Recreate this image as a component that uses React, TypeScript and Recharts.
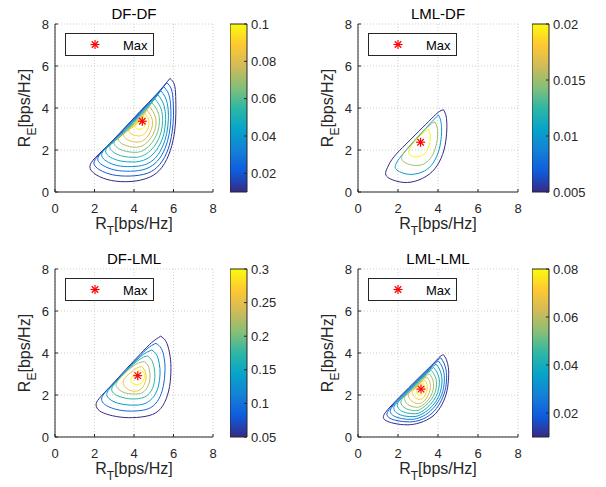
import React from 'react';
import {
  ComposedChart,
  Line,
  Scatter,
  XAxis,
  YAxis,
  CartesianGrid,
  Legend,
  Label,
  ReferenceArea,
} from 'recharts';

// ---------------- data ----------------
const AXIS_TICKS = [0, 2, 4, 6, 8];
const AXIS_DOMAIN = [0, 8];

const PARULA = ['#352a87', '#0f5cdd', '#1481d6', '#06a4ca', '#2eb7a4', '#87bf77', '#d1bb59', '#fec832', '#f9fb0e'];

// DF-DF
const DFDF_LEVELS = [0.01, 0.019, 0.028, 0.037, 0.046, 0.055, 0.064, 0.073, 0.082, 0.091, 0.1];
const DFDF_RANGE = [0.01, 0.1];
const DFDF_CTICKS = [0.02, 0.04, 0.06, 0.08, 0.1];
const DFDF_MAX = [{ x: 4.42, y: 3.37 }];
const DFDF_RINGS = [
  [[5.82,5.41],[6.04,5.13],[6.11,4.55],[6.12,3.75],[6.06,2.90],[5.84,1.98],[5.42,1.18],[4.78,0.70],[3.85,0.50],[2.85,0.55],[2.12,0.80],[1.78,1.12],[1.93,1.52],[2.60,2.15],[3.40,2.93],[4.30,3.83],[5.10,4.62],[5.55,5.10],[5.82,5.41]],
  [[5.66,5.21],[5.89,4.90],[5.98,4.35],[6.00,3.65],[5.93,2.85],[5.72,2.02],[5.32,1.33],[4.70,0.90],[3.80,0.76],[2.92,0.82],[2.27,1.05],[1.98,1.32],[2.12,1.65],[2.70,2.21],[3.45,2.95],[4.30,3.80],[5.05,4.54],[5.45,4.96],[5.66,5.21]],
  [[5.50,5.02],[5.74,4.70],[5.85,4.20],[5.87,3.55],[5.79,2.80],[5.57,2.07],[5.19,1.48],[4.60,1.10],[3.82,0.99],[3.02,1.05],[2.42,1.27],[2.17,1.52],[2.30,1.82],[2.80,2.27],[3.50,2.97],[4.30,3.76],[4.95,4.40],[5.30,4.77],[5.50,5.02]],
  [[5.35,4.83],[5.58,4.52],[5.71,4.08],[5.74,3.50],[5.66,2.80],[5.44,2.15],[5.08,1.62],[4.55,1.30],[3.87,1.21],[3.15,1.26],[2.60,1.47],[2.37,1.72],[2.48,2.00],[2.90,2.33],[3.55,2.97],[4.25,3.67],[4.85,4.26],[5.15,4.56],[5.35,4.83]],
  [[5.20,4.64],[5.43,4.33],[5.56,3.95],[5.60,3.45],[5.52,2.80],[5.30,2.25],[4.96,1.80],[4.48,1.51],[3.93,1.43],[3.30,1.48],[2.80,1.66],[2.57,1.90],[2.66,2.16],[3.05,2.44],[3.62,3.00],[4.22,3.60],[4.72,4.09],[5.00,4.38],[5.20,4.64]],
  [[5.05,4.45],[5.28,4.15],[5.41,3.83],[5.45,3.40],[5.37,2.85],[5.16,2.37],[4.84,1.98],[4.42,1.72],[4.00,1.65],[3.45,1.70],[3.00,1.87],[2.78,2.10],[2.86,2.34],[3.20,2.55],[3.70,3.04],[4.20,3.54],[4.60,3.93],[4.85,4.19],[5.05,4.45]],
  [[4.90,4.26],[5.12,3.98],[5.25,3.70],[5.29,3.35],[5.21,2.90],[5.02,2.50],[4.74,2.17],[4.40,1.95],[4.06,1.89],[3.62,1.93],[3.22,2.07],[3.00,2.28],[3.07,2.50],[3.38,2.69],[3.80,3.10],[4.22,3.52],[4.52,3.82],[4.72,4.01],[4.90,4.26]],
  [[4.77,4.08],[4.96,3.83],[5.08,3.58],[5.12,3.30],[5.05,2.93],[4.88,2.61],[4.65,2.35],[4.40,2.19],[4.13,2.13],[3.78,2.16],[3.43,2.28],[3.22,2.46],[3.27,2.66],[3.55,2.81],[3.90,3.15],[4.25,3.50],[4.50,3.75],[4.64,3.91],[4.77,4.08]],
  [[4.65,3.91],[4.80,3.70],[4.90,3.52],[4.94,3.28],[4.88,2.98],[4.74,2.71],[4.56,2.52],[4.38,2.41],[4.20,2.38],[3.93,2.40],[3.65,2.50],[3.48,2.68],[3.52,2.84],[3.75,2.95],[4.05,3.25],[4.33,3.53],[4.50,3.71],[4.58,3.80],[4.65,3.91]],
  [[4.55,3.75],[4.66,3.60],[4.73,3.47],[4.76,3.28],[4.72,3.06],[4.62,2.87],[4.50,2.74],[4.38,2.69],[4.27,2.67],[4.08,2.69],[3.88,2.76],[3.75,2.88],[3.78,3.00],[3.95,3.09],[4.15,3.29],[4.33,3.47],[4.44,3.60],[4.50,3.67],[4.55,3.75]],
  [[4.48,3.61],[4.54,3.50],[4.58,3.38],[4.57,3.22],[4.50,3.08],[4.41,3.00],[4.30,2.98],[4.17,3.00],[4.07,3.06],[4.06,3.15],[4.15,3.23],[4.28,3.36],[4.38,3.48],[4.44,3.55],[4.48,3.61]],
];

// LML-DF
const LMLDF_LEVELS = [0.005, 0.01, 0.015, 0.02];
const LMLDF_RANGE = [0.005, 0.02];
const LMLDF_CTICKS = [0.005, 0.01, 0.015, 0.02];
const LMLDF_MAX = [{ x: 3.13, y: 2.37 }];
const LMLDF_RINGS = [
  [[4.27,3.92],[4.39,3.68],[4.44,3.30],[4.43,2.80],[4.30,2.00],[3.95,1.25],[3.40,0.74],[2.65,0.47],[2.00,0.50],[1.55,0.66],[1.38,0.86],[1.48,1.18],[1.80,1.68],[2.40,2.28],[3.05,2.90],[3.65,3.47],[4.02,3.80],[4.27,3.92]],
  [[4.02,3.67],[4.13,3.42],[4.18,3.00],[4.15,2.50],[4.00,1.85],[3.65,1.25],[3.20,0.95],[2.70,0.84],[2.25,0.90],[1.95,1.04],[1.86,1.20],[1.98,1.48],[2.40,1.98],[2.95,2.56],[3.50,3.15],[3.85,3.50],[4.02,3.67]],
  [[3.85,3.33],[3.95,3.10],[3.98,2.75],[3.93,2.30],[3.75,1.80],[3.45,1.43],[3.05,1.27],[2.62,1.30],[2.30,1.43],[2.18,1.60],[2.28,1.85],[2.65,2.28],[3.15,2.80],[3.55,3.15],[3.75,3.30],[3.85,3.33]],
  [[3.52,2.99],[3.60,2.75],[3.60,2.40],[3.50,2.05],[3.30,1.80],[3.00,1.68],[2.72,1.70],[2.55,1.82],[2.55,2.02],[2.80,2.35],[3.15,2.72],[3.40,2.92],[3.52,2.99]],
];

// DF-LML
const DFLML_LEVELS = [0.05, 0.092, 0.133, 0.175, 0.217, 0.258, 0.3];
const DFLML_RANGE = [0.05, 0.3];
const DFLML_CTICKS = [0.05, 0.1, 0.15, 0.2, 0.25, 0.3];
const DFLML_MAX = [{ x: 4.19, y: 2.92 }];
const DFLML_RINGS = [
  [[5.35,4.80],[5.62,4.55],[5.80,4.00],[5.87,3.30],[5.80,2.40],[5.55,1.65],[5.10,1.15],[4.35,0.95],[3.50,0.93],[2.75,1.05],[2.25,1.25],[2.08,1.52],[2.25,1.85],[2.85,2.46],[3.60,3.23],[4.35,3.98],[4.90,4.50],[5.35,4.80]],
  [[5.11,4.46],[5.38,4.22],[5.53,3.75],[5.57,3.15],[5.48,2.40],[5.25,1.80],[4.85,1.40],[4.25,1.25],[3.60,1.24],[3.00,1.34],[2.52,1.55],[2.36,1.80],[2.52,2.10],[3.05,2.62],[3.70,3.27],[4.35,3.92],[4.80,4.30],[5.11,4.46]],
  [[4.90,4.14],[5.14,3.92],[5.28,3.50],[5.32,3.00],[5.23,2.40],[5.00,1.93],[4.62,1.62],[4.15,1.52],[3.65,1.53],[3.15,1.62],[2.77,1.80],[2.62,2.02],[2.77,2.30],[3.25,2.80],[3.85,3.40],[4.40,3.88],[4.70,4.06],[4.90,4.14]],
  [[4.69,3.86],[4.90,3.65],[5.02,3.30],[5.06,2.88],[4.98,2.42],[4.77,2.07],[4.45,1.87],[4.02,1.81],[3.60,1.84],[3.20,1.95],[2.95,2.10],[2.87,2.28],[3.02,2.53],[3.45,2.98],[3.97,3.46],[4.40,3.76],[4.69,3.86]],
  [[4.52,3.59],[4.70,3.42],[4.79,3.15],[4.81,2.80],[4.72,2.45],[4.52,2.18],[4.25,2.06],[3.92,2.05],[3.55,2.10],[3.25,2.25],[3.10,2.45],[3.18,2.67],[3.55,3.05],[4.00,3.40],[4.30,3.55],[4.52,3.59]],
  [[4.39,3.35],[4.53,3.20],[4.61,2.95],[4.58,2.65],[4.45,2.38],[4.25,2.22],[4.00,2.18],[3.73,2.25],[3.52,2.42],[3.45,2.62],[3.58,2.85],[3.90,3.12],[4.18,3.30],[4.39,3.35]],
  [[4.36,3.20],[4.48,3.08],[4.53,2.90],[4.48,2.70],[4.35,2.55],[4.15,2.49],[3.97,2.53],[3.85,2.65],[3.86,2.80],[4.00,2.97],[4.20,3.13],[4.36,3.20]],
];

// LML-LML
const LMLLML_LEVELS = [0.01, 0.018, 0.026, 0.033, 0.041, 0.049, 0.057, 0.064, 0.072, 0.08];
const LMLLML_RANGE = [0.01, 0.08];
const LMLLML_CTICKS = [0.02, 0.04, 0.06, 0.08];
const LMLLML_MAX = [{ x: 3.15, y: 2.28 }];
const LMLLML_RINGS = [
  [[4.27,3.92],[4.42,3.68],[4.52,3.30],[4.53,2.85],[4.45,2.20],[4.20,1.55],[3.75,1.00],[3.10,0.68],[2.45,0.58],[1.80,0.65],[1.40,0.78],[1.27,0.92],[1.38,1.18],[1.90,1.73],[2.55,2.36],[3.20,2.97],[3.80,3.53],[4.10,3.83],[4.27,3.92]],
  [[4.14,3.77],[4.30,3.52],[4.40,3.20],[4.43,2.80],[4.35,2.20],[4.10,1.62],[3.70,1.13],[3.15,0.82],[2.58,0.72],[2.00,0.77],[1.60,0.89],[1.45,1.05],[1.55,1.30],[2.00,1.79],[2.60,2.36],[3.20,2.93],[3.75,3.45],[4.00,3.68],[4.14,3.77]],
  [[4.02,3.62],[4.19,3.38],[4.29,3.08],[4.32,2.72],[4.24,2.18],[4.00,1.67],[3.62,1.23],[3.15,0.95],[2.70,0.84],[2.17,0.88],[1.78,1.01],[1.62,1.18],[1.70,1.42],[2.15,1.89],[2.70,2.42],[3.25,2.94],[3.70,3.37],[3.90,3.55],[4.02,3.62]],
  [[3.90,3.47],[4.07,3.24],[4.17,2.96],[4.20,2.62],[4.12,2.15],[3.90,1.70],[3.55,1.32],[3.15,1.07],[2.80,0.97],[2.33,1.00],[1.96,1.13],[1.80,1.32],[1.87,1.55],[2.30,1.99],[2.80,2.47],[3.30,2.95],[3.65,3.28],[3.80,3.40],[3.90,3.47]],
  [[3.78,3.31],[3.94,3.10],[4.04,2.85],[4.07,2.55],[3.99,2.13],[3.78,1.74],[3.47,1.41],[3.15,1.19],[2.88,1.11],[2.48,1.14],[2.12,1.27],[1.97,1.47],[2.04,1.69],[2.45,2.10],[2.90,2.53],[3.35,2.95],[3.60,3.19],[3.70,3.26],[3.78,3.31]],
  [[3.67,3.17],[3.81,2.98],[3.90,2.76],[3.93,2.48],[3.85,2.11],[3.66,1.78],[3.38,1.50],[3.14,1.33],[2.95,1.26],[2.62,1.28],[2.30,1.41],[2.15,1.62],[2.22,1.83],[2.58,2.18],[3.00,2.58],[3.35,2.91],[3.55,3.10],[3.67,3.17]],
  [[3.56,3.01],[3.68,2.85],[3.76,2.66],[3.78,2.42],[3.71,2.10],[3.55,1.81],[3.32,1.58],[3.15,1.47],[3.02,1.42],[2.75,1.44],[2.47,1.56],[2.33,1.78],[2.40,1.97],[2.72,2.26],[3.08,2.61],[3.35,2.86],[3.48,2.97],[3.56,3.01]],
  [[3.45,2.86],[3.55,2.72],[3.61,2.56],[3.62,2.36],[3.56,2.10],[3.43,1.86],[3.26,1.68],[3.08,1.59],[2.88,1.61],[2.66,1.73],[2.52,1.95],[2.58,2.12],[2.85,2.34],[3.15,2.62],[3.35,2.80],[3.45,2.86]],
  [[3.35,2.70],[3.42,2.58],[3.46,2.42],[3.45,2.25],[3.39,2.05],[3.28,1.88],[3.13,1.79],[2.97,1.81],[2.82,1.91],[2.72,2.08],[2.77,2.22],[2.98,2.40],[3.18,2.58],[3.30,2.67],[3.35,2.70]],
  [[3.28,2.55],[3.32,2.45],[3.34,2.30],[3.30,2.14],[3.21,2.02],[3.10,1.99],[2.99,2.04],[2.92,2.15],[2.94,2.26],[3.07,2.38],[3.20,2.50],[3.28,2.55]],
];

// ---------------- helpers ----------------
const FONT = '"Liberation Sans", Arial, Helvetica, sans-serif';
const INK = '#262626';

function hexToRgb(h: string) {
  const v = parseInt(h.slice(1), 16);
  return [(v >> 16) & 255, (v >> 8) & 255, v & 255];
}
function parula(t: number) {
  const n = PARULA.length - 1;
  const p = Math.min(Math.max(t, 0), 1) * n;
  const i = Math.min(Math.floor(p), n - 1);
  const f = p - i;
  const a = hexToRgb(PARULA[i]);
  const b = hexToRgb(PARULA[i + 1]);
  const c = a.map((v, k) => Math.round(v + (b[k] - v) * f));
  return `rgb(${c[0]},${c[1]},${c[2]})`;
}

const Asterisk = ({ cx, cy, r = 4.5 }: { cx: number; cy: number; r?: number }) => {
  const d = r * 0.72;
  return (
    <g stroke="#ff0000" strokeWidth={1.2}>
      <line x1={cx - r} y1={cy} x2={cx + r} y2={cy} />
      <line x1={cx} y1={cy - r} x2={cx} y2={cy + r} />
      <line x1={cx - d} y1={cy - d} x2={cx + d} y2={cy + d} />
      <line x1={cx - d} y1={cy + d} x2={cx + d} y2={cy - d} />
    </g>
  );
};

const MaxLegend = () => (
  <svg width={89} height={23} style={{ display: 'block' }}>
    <rect x={0.5} y={0.5} width={88} height={22} fill="#ffffff" stroke={INK} strokeWidth={1} />
    <Asterisk cx={30} cy={11.5} />
    <text x={58} y={16.5} fontSize={13} fill="#000" fontFamily={FONT}>Max</text>
  </svg>
);

const XLabel = (props: any) => {
  const vb = props.viewBox || {};
  const cx = vb.x + vb.width / 2;
  return (
    <text x={cx} y={vb.y + 37} textAnchor="middle" fontSize={16} fill={INK} fontFamily={FONT}>
      <tspan>R</tspan>
      <tspan fontSize={12} dy={6}>T</tspan>
      <tspan dy={-6}>[bps/Hz]</tspan>
    </text>
  );
};

const YLabel = (props: any) => {
  const vb = props.viewBox || {};
  const x = vb.x + 5;
  const cy = vb.y + vb.height / 2;
  return (
    <text x={x} y={cy} textAnchor="middle" fontSize={16} fill={INK} fontFamily={FONT} transform={`rotate(-90, ${x}, ${cy})`}>
      <tspan>R</tspan>
      <tspan fontSize={12} dy={6}>E</tspan>
      <tspan dy={-6}>[bps/Hz]</tspan>
    </text>
  );
};

type PanelProps = {
  title: string;
  rings: number[][][];
  levels: number[];
  cRange: number[];
  maxPt: { x: number; y: number }[];
  ox: number;
  oy: number;
  plotLeft: number;
  plotTop: number;
  plotW: number;
  plotH: number;
};

function Panel({ title, rings, levels, cRange, maxPt, ox, oy, plotLeft, plotTop, plotW, plotH }: PanelProps) {
  const W = 300;
  const H = 240;
  const YW = 30;
  const XH = 30;
  const margin = {
    left: plotLeft - ox - YW,
    top: plotTop - oy,
    right: ox + W - plotLeft - plotW,
    bottom: oy + H - plotTop - plotH - XH,
  };
  const tickStyle = { fontSize: 13, fill: INK, fontFamily: FONT };
  return (
    <div style={{ position: 'absolute', left: ox, top: oy, width: W, height: H }}>
      <ComposedChart width={W} height={H} margin={margin}>
        <CartesianGrid stroke="#cfcfcf" strokeDasharray="1 2" />
        <XAxis
          dataKey="x"
          type="number"
          domain={AXIS_DOMAIN}
          ticks={AXIS_TICKS}
          allowDataOverflow
          height={XH}
          tickSize={-3}
          tickMargin={15}
          stroke={INK}
          tick={tickStyle}
          label={<Label content={XLabel} />}
        />
        <XAxis
          xAxisId="top"
          orientation="top"
          dataKey="x"
          type="number"
          domain={AXIS_DOMAIN}
          ticks={AXIS_TICKS}
          allowDataOverflow
          height={0}
          tickSize={-3}
          tickFormatter={() => ''}
          stroke={INK}
        />
        <YAxis
          dataKey="y"
          type="number"
          domain={AXIS_DOMAIN}
          ticks={AXIS_TICKS}
          allowDataOverflow
          width={YW}
          tickSize={-3}
          tickMargin={9}
          stroke={INK}
          tick={tickStyle}
          label={<Label content={YLabel} />}
        />
        <YAxis
          yAxisId="right"
          orientation="right"
          dataKey="y"
          type="number"
          domain={AXIS_DOMAIN}
          ticks={AXIS_TICKS}
          allowDataOverflow
          width={0}
          tickSize={-3}
          tickFormatter={() => ''}
          stroke={INK}
        />
        {rings.map((ring, i) => (
          <Line
            key={`ring-${i}`}
            name={`level ${levels[i]}`}
            data={ring.map(([x, y]) => ({ x, y }))}
            dataKey="y"
            type="natural"
            stroke={parula((levels[i] - cRange[0]) / (cRange[1] - cRange[0]))}
            strokeWidth={1}
            dot={false}
            activeDot={false}
            isAnimationActive={false}
          />
        ))}
        <Scatter
          name="Max"
          data={maxPt}
          dataKey="y"
          isAnimationActive={false}
          shape={(p: any) => <Asterisk cx={p.cx} cy={p.cy} />}
        />
        <Legend
          layout="horizontal"
          verticalAlign="middle"
          align="center"
          content={() => <MaxLegend />}
          wrapperStyle={{ left: plotLeft - ox + 10, top: plotTop - oy + 9, width: 89, height: 23 }}
        />
      </ComposedChart>
      <svg
        width={plotW}
        height={22}
        style={{ position: 'absolute', left: plotLeft - ox, top: plotTop - oy - 22, pointerEvents: 'none' }}
      >
        <text x={plotW / 2} y={16.5} textAnchor="middle" fontSize={15} fill="#000" fontFamily={FONT}>
          {title}
        </text>
      </svg>
    </div>
  );
}

type BarProps = { range: number[]; ticks: number[]; left: number; top: number; plotTop: number; plotH: number };

function Colorbar({ range, ticks, left, top, plotTop, plotH }: BarProps) {
  const W = 70;
  const H = 240;
  const YW = 45;
  const BW = 17;
  const margin = { left: 0, right: W - BW - YW, top: plotTop - top, bottom: top + H - plotTop - plotH };
  const ends = [
    { x: 0, y: range[0] },
    { x: 1, y: range[1] },
  ];
  return (
    <div style={{ position: 'absolute', left, top, width: W, height: H }}>
      <ComposedChart width={W} height={H} margin={margin}>
        <XAxis dataKey="x" type="number" domain={[0, 1]} allowDataOverflow hide />
        <YAxis
          dataKey="y"
          orientation="right"
          type="number"
          domain={range}
          ticks={ticks}
          allowDataOverflow
          interval={0}
          width={YW}
          tickSize={-3}
          tickMargin={7}
          axisLine={false}
          stroke={INK}
          tick={{ fontSize: 13, fill: INK, fontFamily: FONT }}
        />
        <Line data={ends} dataKey="y" stroke="none" dot={false} activeDot={false} isAnimationActive={false} />
        <ReferenceArea
          x1={0}
          x2={1}
          y1={range[0]}
          y2={range[1]}
          fill="url(#parulaGrad)"
          fillOpacity={1}
          stroke={INK}
          strokeWidth={1}
          ifOverflow="visible"
        />
      </ComposedChart>
    </div>
  );
}

export default function App() {
  return (
    <div
      style={{
        position: 'absolute',
        left: 0,
        top: 0,
        width: 606,
        height: 487,
        background: '#ffffff',
        fontFamily: FONT,
        overflow: 'hidden',
      }}
    >
      <svg width={0} height={0} style={{ position: 'absolute' }}>
        <defs>
          <linearGradient id="parulaGrad" x1="0" y1="1" x2="0" y2="0">
            {PARULA.map((c, i) => (
              <stop key={c} offset={i / (PARULA.length - 1)} stopColor={c} />
            ))}
          </linearGradient>
        </defs>
      </svg>

      <Panel title="DF-DF" rings={DFDF_RINGS} levels={DFDF_LEVELS} cRange={DFDF_RANGE} maxPt={DFDF_MAX}
        ox={0} oy={0} plotLeft={55} plotTop={24} plotW={158} plotH={168} />
      <Colorbar range={DFDF_RANGE} ticks={DFDF_CTICKS} left={230} top={0} plotTop={24} plotH={168} />

      <Panel title="LML-DF" rings={LMLDF_RINGS} levels={LMLDF_LEVELS} cRange={LMLDF_RANGE} maxPt={LMLDF_MAX}
        ox={303} oy={0} plotLeft={358} plotTop={24} plotW={160} plotH={168} />
      <Colorbar range={LMLDF_RANGE} ticks={LMLDF_CTICKS} left={532} top={0} plotTop={24} plotH={168} />

      <Panel title="DF-LML" rings={DFLML_RINGS} levels={DFLML_LEVELS} cRange={DFLML_RANGE} maxPt={DFLML_MAX}
        ox={0} oy={245} plotLeft={55} plotTop={269} plotW={158} plotH={168} />
      <Colorbar range={DFLML_RANGE} ticks={DFLML_CTICKS} left={230} top={245} plotTop={269} plotH={168} />

      <Panel title="LML-LML" rings={LMLLML_RINGS} levels={LMLLML_LEVELS} cRange={LMLLML_RANGE} maxPt={LMLLML_MAX}
        ox={303} oy={245} plotLeft={358} plotTop={269} plotW={160} plotH={168} />
      <Colorbar range={LMLLML_RANGE} ticks={LMLLML_CTICKS} left={532} top={245} plotTop={269} plotH={168} />
    </div>
  );
}
